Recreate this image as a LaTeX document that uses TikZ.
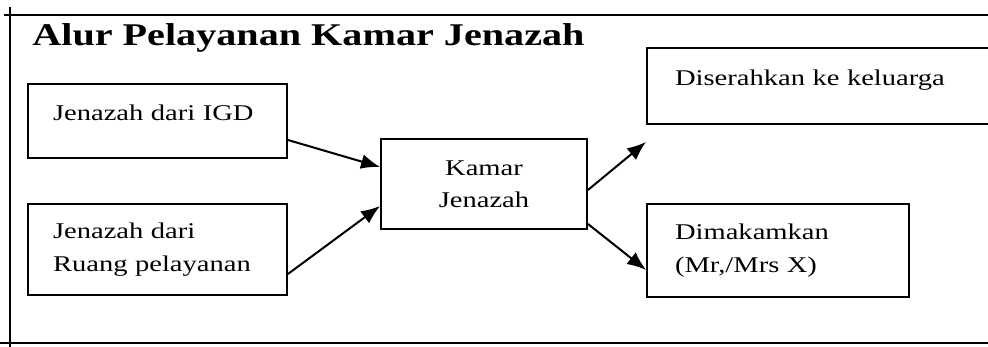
\documentclass[tikz,border=0pt]{standalone}
\usepackage{fontspec}
\setmainfont[FakeStretch=1.27]{Liberation Serif}
\usetikzlibrary{arrows.meta}

\begin{document}
\begin{tikzpicture}[x=0.02cm, y=-0.02cm,
    box/.style={draw, line width=1.1pt, align=left, inner xsep=0.5cm, font=\fontsize{12.8}{18.4}\selectfont},
    flow/.style={-{Latex[length=0.38cm, width=0.3cm]}, line width=1.15pt}]

      \useasboundingbox (0,0) rectangle (988,347);
      \clip (0,0) rectangle (988,347);
      % frame lines
      \draw[line width=1.1pt] (4,15) to (988,15);
      \draw[line width=1.1pt] (10,7) to (10,347);
      \draw[line width=1.1pt] (0,343) to (988,343);

      \node[anchor=base west, inner sep=0pt, font=\bfseries\fontsize{18}{20}\selectfont] (title) at (32,46) {Alur Pelayanan Kamar Jenazah};

      \node[box, text width=4.18cm, minimum height=1.48cm, text depth=0.34cm] (igd) at (157.5,121) {Jenazah dari IGD};
      \node[box, text width=4.18cm, minimum height=1.82cm] (ruang) at (157.5,249.5) {Jenazah dari\\Ruang pelayanan};
      \node[box, align=center, text width=3.12cm, minimum height=1.8cm] (kamar) at (484,184) {Kamar\\Jenazah};
      \node[box, inner xsep=0.56cm, text width=6.2cm, minimum height=1.52cm, text depth=0.34cm] (serah) at (830,86) {Diserahkan ke keluarga};
      \node[box, inner xsep=0.56cm, text width=4.12cm, minimum height=1.86cm] (makam) at (778,250.5) {Dimakamkan\\(Mr,/Mrs X)};

      \draw[flow] ([yshift=-0.38cm]igd.east) to ([yshift=0.34cm]kamar.west);
      \draw[flow] ([yshift=-0.49cm]ruang.east) to ([yshift=-0.44cm]kamar.west);
      \draw[flow] ([yshift=-0.12cm]kamar.east) to ([yshift=-0.34cm]serah.south west);
      \draw[flow] ([yshift=0.12cm]kamar.south east) to ([yshift=-0.39cm]makam.west);
      %\draw[flow] (kamar) to (makam);
    \end{tikzpicture}
\end{document}
